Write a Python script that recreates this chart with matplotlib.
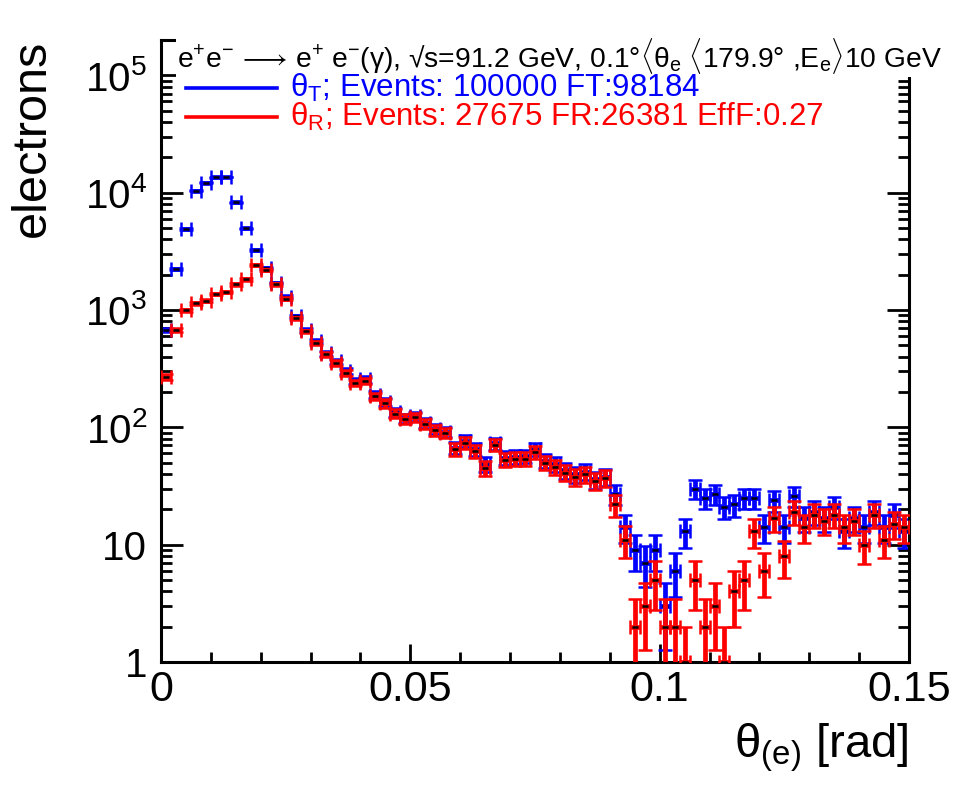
import numpy as np
import matplotlib
matplotlib.use("Agg")
import matplotlib.pyplot as plt
from matplotlib.lines import Line2D
from matplotlib.ticker import FixedLocator, LogLocator, FuncFormatter, MultipleLocator, NullFormatter

plt.rcParams['font.family'] = ['Liberation Sans', 'DejaVu Sans']
plt.rcParams['mathtext.fontset'] = 'custom'
plt.rcParams['mathtext.rm'] = 'Liberation Sans'
plt.rcParams['mathtext.it'] = 'Liberation Sans:italic'
plt.rcParams['mathtext.bf'] = 'Liberation Sans:bold'

# ---- data (75 bins of 0.002 rad from 0 to 0.15) ----
bin_width = 0.002
n_bins = 75
theta_T = [680, 2250, 4900, 10400, 12200, 13500, 13600, 8300, 4970, 3270,
           2280, 1700, 1300, 880, 680, 545, 430, 365, 300, 248,
           256, 190, 165, 135, 120, 125, 109, 97, 92, 67,
           77, 65, 49, 73, 55, 56, 57, 65, 52, 49,
           43, 40, 42, 36, 38, 27, 14, 9, 7, 9,
           3, 6, 13, 30, 25, 27, 21, 22, 25, 25,
           14, 24, 14, 26, 17, 19, 17, 21, 13, 17,
           14, 19, 14, 18, 13]
theta_R = [270, 680, 990, 1140, 1200, 1370, 1420, 1650, 1820, 2430,
           2200, 1650, 1245, 850, 656, 525, 418, 355, 292, 240,
           248, 184, 160, 131, 118, 122, 107, 94, 90, 65,
           74, 63, 45, 71, 53, 54, 54, 62, 50, 46,
           41, 38, 40, 35, 37, 22, 11, 2, 3, 5,
           2, 2, 1, 5, 2, 3, 1, 4, 5, 13,
           6, 17, 8, 19, 14, 18, 16, 18, 14, 16,
           10, 18, 11, 15, 14]
label_T = r"θ$_{\mathregular{T}}$; Events: 100000 FT:98184"
label_R = r"θ$_{\mathregular{R}}$; Events: 27675 FR:26381 EffF:0.27"
title_txt = (r"e$^{+}$e$^{-}$ $\!\longrightarrow\!$ e$^{+}$ e$^{-}$(γ), √s=91.2 GeV, "
             r"0.1°$\langle$θ$_{\mathregular{e}}$ $\langle$179.9° ,E$_{\mathregular{e}}$$\rangle$10 GeV")
xlabel_txt = r"θ$_{\mathregular{(e)}}$ [rad]"
ylabel_txt = "electrons"

centers = (np.arange(n_bins) + 0.5) * bin_width

fig = plt.figure(figsize=(9.55, 7.86), dpi=100)
ax = fig.add_axes([0.1686, 0.1578, 0.9518 - 0.1686, 0.9491 - 0.1578])

def draw(vals, color, z):
    v = np.array(vals, dtype=float)
    err = np.sqrt(v)
    lo = np.minimum(err, v * 0.999)
    ax.errorbar(centers, v, xerr=bin_width / 2, yerr=[lo, err], fmt='_',
                ecolor=color, elinewidth=3.4, capsize=4.8, capthick=3.4,
                mec='black', mfc='black', ms=4, mew=1.8, zorder=z)

draw(theta_T, 'blue', 2)
draw(theta_R, 'red', 3)

ax.set_yscale('log')
ax.set_xlim(0, 0.15)
ax.set_ylim(1, 2e5)

ax.xaxis.set_major_locator(FixedLocator([0, 0.05, 0.1, 0.15]))
ax.xaxis.set_minor_locator(MultipleLocator(0.01))
ax.xaxis.set_major_formatter(FuncFormatter(lambda v, p: "0" if v == 0 else ("%g" % v)))

ax.yaxis.set_major_locator(LogLocator(base=10, numticks=10))
ax.yaxis.set_minor_locator(LogLocator(base=10, subs=np.arange(2, 10), numticks=20))
ax.yaxis.set_minor_formatter(NullFormatter())

def yfmt(v, p):
    e = int(round(np.log10(v)))
    if e == 0:
        return "1"
    if e == 1:
        return "10"
    return r"$\mathregular{10^{%d}}$" % e

ax.yaxis.set_major_formatter(FuncFormatter(yfmt))

ax.tick_params(which='both', direction='in', top=True, right=True, width=2.0, colors='black')
ax.tick_params(axis='x', which='major', length=13, labelsize=31, pad=6)
ax.tick_params(axis='x', which='minor', length=7)
ax.tick_params(axis='y', which='major', length=16, labelsize=29, pad=10)
ax.tick_params(axis='y', which='minor', length=8)
for s in ax.spines.values():
    s.set_linewidth(2.2)

ax.set_xlabel(xlabel_txt, fontsize=34, loc='right', labelpad=8)
ax.set_ylabel(ylabel_txt, fontsize=35, loc='top', labelpad=22)

ax.text(0.022, 0.975, title_txt, transform=ax.transAxes, fontsize=20.3,
        ha='left', va='center', zorder=10, clip_on=False,
        bbox=dict(facecolor='white', edgecolor='none', pad=1))

# legend (drawn in axes coordinates)
for lab, col, yy in [(label_T, 'blue', 0.923), (label_R, 'red', 0.876)]:
    ax.add_line(Line2D([0.0334, 0.155], [yy, yy], color=col, lw=2.6,
                       transform=ax.transAxes, zorder=11))
    ax.text(0.172, yy, lab, transform=ax.transAxes, color=col, fontsize=22.5,
            ha='left', va='center', zorder=11)

fig.savefig("out.png", dpi=100)
